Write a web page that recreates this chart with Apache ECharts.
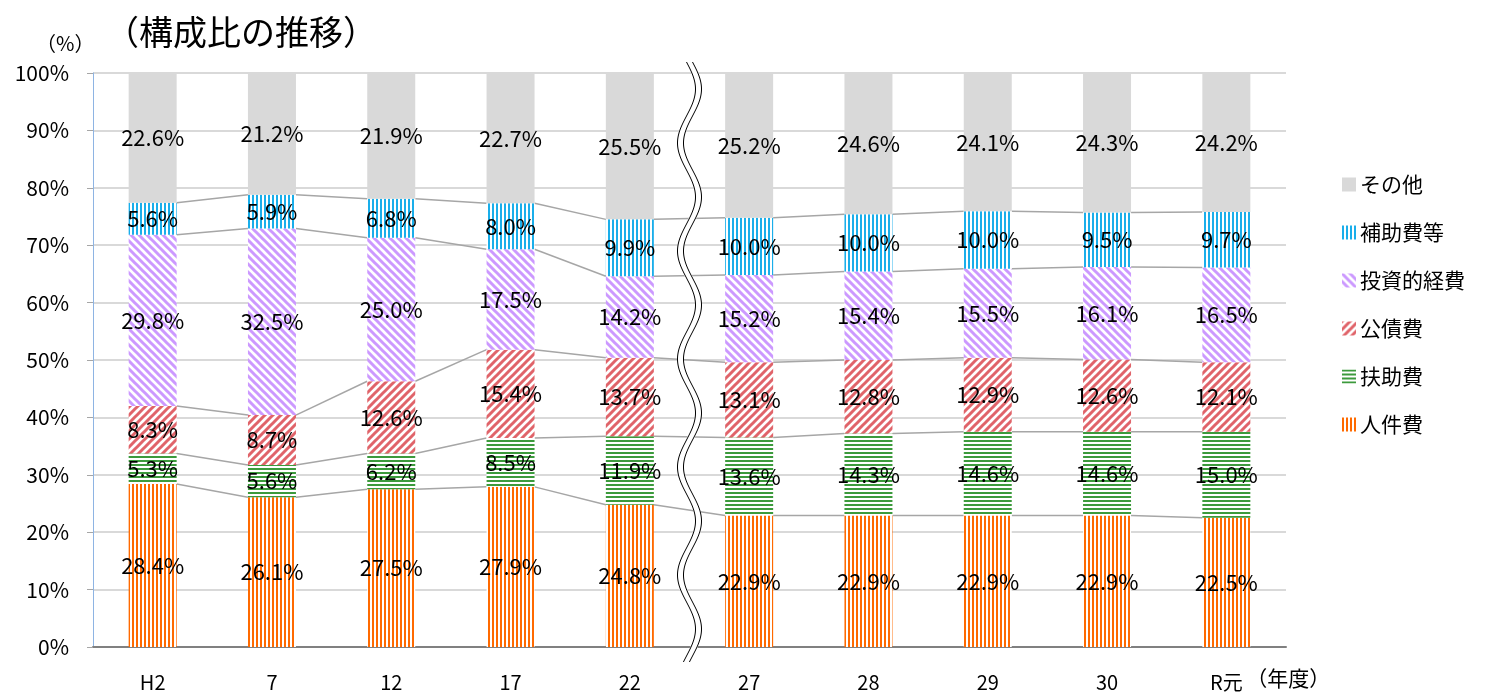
<!DOCTYPE html>
<html>
<head>
<meta charset="utf-8">
<script src="https://cdn.jsdelivr.net/npm/echarts@6/dist/echarts.min.js"></script>
<style>
  html, body { margin: 0; padding: 0; background: #fff; }
  #main { width: 1502px; height: 695px; }
</style>
</head>
<body>
<div id="main"></div>
<script>
  // 年度
  var categories = ['H2', '7', '12', '17', '22', '27', '28', '29', '30', 'R元'];
  // 構成比（%）
  var jinkenhi   = [28.4, 26.1, 27.5, 27.9, 24.8, 22.9, 22.9, 22.9, 22.9, 22.5];
  var fujohi     = [5.3, 5.6, 6.2, 8.5, 11.9, 13.6, 14.3, 14.6, 14.6, 15.0];
  var kosaihi    = [8.3, 8.7, 12.6, 15.4, 13.7, 13.1, 12.8, 12.9, 12.6, 12.1];
  var toshikei   = [29.8, 32.5, 25.0, 17.5, 14.2, 15.2, 15.4, 15.5, 16.1, 16.5];
  var hojohi     = [5.6, 5.9, 6.8, 8.0, 9.9, 10.0, 10.0, 10.0, 9.5, 9.7];
  var sonota     = [22.6, 21.2, 21.9, 22.7, 25.5, 25.2, 24.6, 24.1, 24.3, 24.2];
  var yTicks = [0, 10, 20, 30, 40, 50, 60, 70, 80, 90, 100];

  var FONT = '"Noto Sans CJK JP", "Noto Sans", sans-serif';

  // 塗りつぶしパターン
  function stripe(color, type) {
    var c = document.createElement('canvas');
    var s = type === 'v' || type === 'h' ? 4 : 8;
    c.width = s; c.height = s;
    var g = c.getContext('2d');
    g.fillStyle = '#fff';
    g.fillRect(0, 0, s, s);
    g.fillStyle = color;
    g.strokeStyle = color;
    if (type === 'v') {
      g.fillRect(0, 0, 2, s);
    } else if (type === 'h') {
      g.fillRect(0, 0, s, 2);
    } else {
      g.lineWidth = 3;
      g.beginPath();
      if (type === 'up') {
        g.moveTo(-2, s + 2); g.lineTo(s + 2, -2);
        g.moveTo(-2, 2); g.lineTo(2, -2);
        g.moveTo(s - 2, s + 2); g.lineTo(s + 2, s - 2);
      } else {
        g.moveTo(-2, -2); g.lineTo(s + 2, s + 2);
        g.moveTo(s - 2, -2); g.lineTo(s + 2, 2);
        g.moveTo(-2, s - 2); g.lineTo(2, s + 2);
      }
      g.stroke();
    }
    return { image: c, repeat: 'repeat' };
  }

  var seriesDefs = [
    { name: '人件費', data: jinkenhi, color: stripe('#FF6A00', 'v') },
    { name: '扶助費', data: fujohi, color: stripe('#3C9A3C', 'h') },
    { name: '公債費', data: kosaihi, color: stripe('#E0646A', 'up') },
    { name: '投資的経費', data: toshikei, color: stripe('#CC99FF', 'down') },
    { name: '補助費等', data: hojohi, color: stripe('#1AAEEA', 'v') },
    { name: 'その他', data: sonota, color: '#D9D9D9' }
  ];

  var BAR_W = 48;

  var series = seriesDefs.map(function (d) {
    return {
      name: d.name,
      type: 'bar',
      stack: 'total',
      barWidth: BAR_W,
      data: d.data,
      itemStyle: { color: d.color },
      z: 3,
      label: {
        show: true,
        position: 'inside',
        color: '#000',
        fontSize: 22,
        fontFamily: FONT,
        formatter: function (p) { return p.value.toFixed(1) + '%'; }
      }
    };
  });

  // 区分線（各系列の境界を隣の棒と結ぶ）
  var cums = [];
  for (var k = 0; k < 5; k++) {
    cums.push(categories.map(function (c, i) {
      var s = 0;
      for (var j = 0; j <= k; j++) s += seriesDefs[j].data[i];
      return s;
    }));
  }
  series.push({
    type: 'custom',
    name: 'lines',
    z: 2,
    silent: true,
    data: categories.slice(0, -1).map(function (c, i) { return [i]; }),
    encode: { x: 0 },
    renderItem: function (params, api) {
      var i = params.dataIndex;
      var children = cums.map(function (cum) {
        var a = api.coord([i, cum[i]]);
        var b = api.coord([i + 1, cum[i + 1]]);
        return {
          type: 'line',
          shape: { x1: a[0] + BAR_W / 2, y1: a[1], x2: b[0] - BAR_W / 2, y2: b[1] },
          style: { stroke: '#A6A6A6', lineWidth: 1.5 }
        };
      });
      return { type: 'group', children: children };
    }
  });

  var option = {
    animation: false,
    textStyle: { fontFamily: FONT },
    title: {
      text: '（構成比の推移）',
      left: 100,
      top: 10,
      textStyle: { fontSize: 34, fontWeight: 'normal', color: '#000', fontFamily: FONT }
    },
    legend: {
      orient: 'vertical',
      left: 1337,
      top: 169,
      itemWidth: 14,
      itemHeight: 14,
      itemGap: 27,
      icon: 'rect',
      data: ['その他', '補助費等', '投資的経費', '公債費', '扶助費', '人件費'],
      textStyle: { fontSize: 21, color: '#000', fontFamily: FONT, padding: [0, 0, 0, -1] }
    },
    grid: { left: 93, right: 216, top: 73, bottom: 48, containLabel: false },
    xAxis: {
      type: 'category',
      data: categories,
      axisLine: { lineStyle: { color: '#808080', width: 2 } },
      axisTick: { show: false },
      axisLabel: { fontSize: 20, color: '#000', margin: 25, fontFamily: FONT }
    },
    yAxis: {
      type: 'value',
      min: yTicks[0],
      max: yTicks[yTicks.length - 1],
      interval: 10,
      axisLine: { show: true, lineStyle: { color: '#8EB4E3', width: 1 } },
      axisTick: { show: true, length: 6, lineStyle: { color: '#A6A6A6' } },
      splitLine: { lineStyle: { color: '#D9D9D9', width: 2 } },
      axisLabel: { fontSize: 21, color: '#000', margin: 24, fontFamily: FONT, formatter: '{value}%' }
    },
    series: series
  };

  var chart = echarts.init(document.getElementById('main'));
  chart.setOption(option);

  // 省略記号（波線）と補足テキスト
  var x4 = chart.convertToPixel({ xAxisIndex: 0 }, categories[4]);
  var x5 = chart.convertToPixel({ xAxisIndex: 0 }, categories[5]);
  var xm = (x4 + x5) / 2;
  var y0 = 62, y1 = 662;
  function wave(dx) {
    var pts = [];
    for (var y = y0; y <= y1; y += 2) {
      pts.push([xm + dx + 9 * Math.sin((y - y0) / 108 * 2 * Math.PI), y]);
    }
    return pts;
  }
  var lastX = chart.convertToPixel({ xAxisIndex: 0 }, categories[9]);
  chart.setOption({
    graphic: [
      { type: 'polyline', shape: { points: wave(0) }, style: { stroke: '#fff', lineWidth: 7, fill: null }, z: 100 },
      { type: 'polyline', shape: { points: wave(-3) }, style: { stroke: '#000', lineWidth: 1, fill: null }, z: 101 },
      { type: 'polyline', shape: { points: wave(3) }, style: { stroke: '#000', lineWidth: 1, fill: null }, z: 101 },
      { type: 'text', left: 36, top: 33, style: { text: '（%）', fill: '#000', font: '20px ' + FONT }, z: 100 },
      { type: 'text', x: lastX + 20, y: 668, style: { text: '（年度）', fill: '#000', font: '21px ' + FONT }, z: 100 }
    ]
  });
</script>
</body>
</html>
